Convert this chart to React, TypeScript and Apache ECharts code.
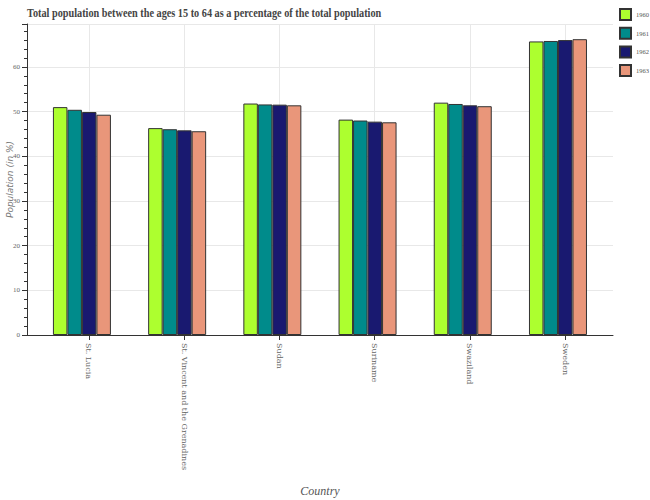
import React, { useEffect, useRef } from "react";
import * as echarts from "echarts";

const countries = ["St. Lucia", "St. Vincent and the Grenadines", "Sudan", "Suriname", "Swaziland", "Sweden"];
const years = ["1960", "1961", "1962", "1963"];
const v1960 = [51.0, 46.3, 51.8, 48.2, 52.0, 65.7];
const v1961 = [50.4, 46.05, 51.6, 48.0, 51.7, 65.8];
const v1962 = [49.9, 45.8, 51.55, 47.75, 51.4, 66.0];
const v1963 = [49.3, 45.6, 51.4, 47.6, 51.2, 66.2];
const yTicks = [0, 10, 20, 30, 40, 50, 60];
const colors = ["#ADFF2F", "#008B8B", "#191970", "#E9967A"];
const titleText = "Total population between the ages 15 to 64 as a percentage of the total population";

export default function App() {
  const ref = useRef<HTMLDivElement>(null);
  useEffect(() => {
    if (!ref.current) return;
    const chart = echarts.init(ref.current, undefined, { renderer: "svg" });
    const all = [v1960, v1961, v1962, v1963];
    const idx = countries.map((_, i) => i);
    const shift = -0.074;
    chart.setOption({
      animation: false,
      graphic: [
        {
          type: "text",
          x: 27,
          y: 7,
          scaleX: 0.855,
          style: {
            text: titleText,
            fontFamily: "Liberation Serif",
            fontWeight: "bold",
            fontSize: 12,
            fill: "#444",
            textVerticalAlign: "top",
          },
        },
      ],
      legend: {
        orient: "vertical",
        left: 619,
        top: 8,
        padding: 0,
        itemWidth: 11,
        itemHeight: 11,
        itemGap: 5.7,
        icon: "rect",
        data: years,
        textStyle: { fontFamily: "Liberation Serif", fontSize: 6.5, color: "#555" },
      },
      grid: { left: 27, right: 37, top: 24, bottom: 165, containLabel: false, outerBoundsMode: "none" },
      xAxis: {
        type: "value",
        min: -0.651,
        max: 5.504,
        name: "Country",
        nameLocation: "middle",
        nameGap: 150,
        nameMoveOverlap: false,
        nameTextStyle: { fontFamily: "Liberation Serif", fontStyle: "italic", fontSize: 12, color: "#555" },
        axisLine: { show: true, onZero: false, lineStyle: { color: "#333" } },
        axisTick: { show: true, customValues: idx, length: 5, lineStyle: { color: "#333" } },
        axisLabel: {
          customValues: idx,
          rotate: -90,
          margin: 8,
          fontFamily: "DejaVu Serif",
          fontSize: 8,
          color: "#666",
          formatter: (v: number) => countries[Math.round(v)] ?? "",
        },
        splitLine: { show: true, lineStyle: { color: "#e8e8e8" } },
      },
      yAxis: {
        type: "value",
        min: 0,
        max: 69.6,
        interval: 10,
        name: "Population (in %)",
        nameLocation: "middle",
        nameGap: 13,
        nameMoveOverlap: false,
        nameTextStyle: { fontFamily: "DejaVu Sans", fontStyle: "italic", fontSize: 9, color: "#777" },
        axisLine: { show: true, onZero: false, lineStyle: { color: "#333" } },
        axisTick: { show: true, length: 5, lineStyle: { color: "#333" } },
        minorTick: { show: true, splitNumber: 5, length: 3, lineStyle: { color: "#333" } },
        axisLabel: {
          fontFamily: "Liberation Serif",
          fontSize: 7,
          color: "#666",
          margin: 7,
          showMaxLabel: false,
          formatter: (v: number) => (yTicks.includes(v) ? String(v) : ""),
        },
        splitLine: { show: true, lineStyle: { color: "#e8e8e8" } },
      },
      series: years.map((y, s) => ({
        name: y,
        type: "bar",
        barWidth: 14.5,
        barGap: "0%",
        itemStyle: { color: colors[s], borderColor: "#333", borderWidth: 1 },
        data: idx.map((i) => [i + shift, all[s][i]]),
      })),
    });
    return () => chart.dispose();
  }, []);
  return <div ref={ref} style={{ width: 650, height: 500, position: "absolute", left: 0, top: 0 }} />;
}
